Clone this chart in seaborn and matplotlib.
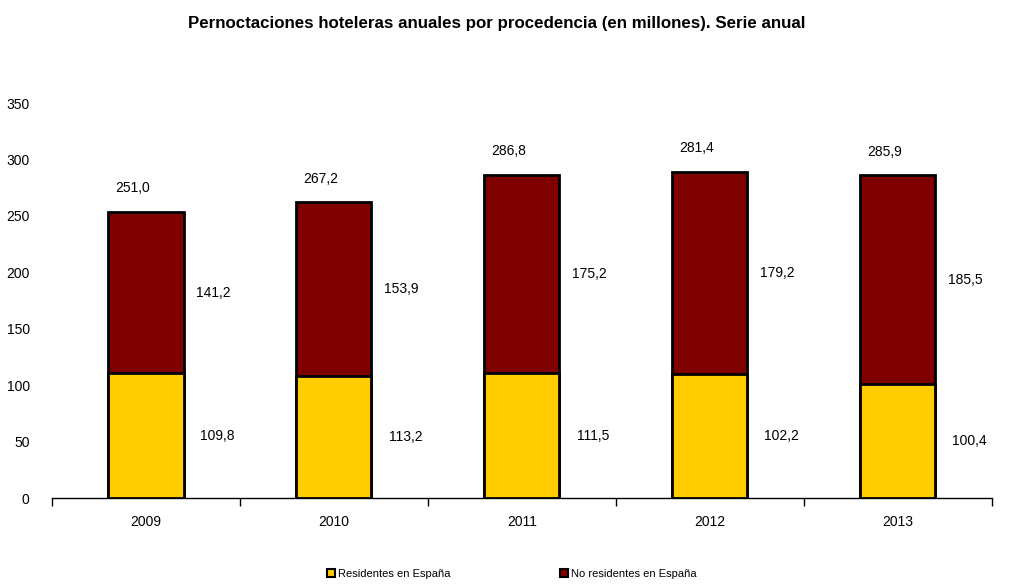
import seaborn as sns
import matplotlib.pyplot as plt
import pandas as pd
import numpy as np
from matplotlib.lines import Line2D

# Datos
anios = ["2009", "2010", "2011", "2012", "2013"]
# alturas de las barras tal como se ven
residentes = [110.5, 108.0, 110.5, 109.5, 100.7]
no_residentes = [143.0, 154.0, 176.0, 179.5, 185.3]
# etiquetas escritas en la gráfica
etiq_total = ["251,0", "267,2", "286,8", "281,4", "285,9"]
etiq_res = ["109,8", "113,2", "111,5", "102,2", "100,4"]
etiq_nores = ["141,2", "153,9", "175,2", "179,2", "185,5"]

amarillo = "#FFCC00"
granate = "#800000"

df = pd.DataFrame({"anio": anios, "res": residentes, "nores": no_residentes})
df["total"] = df["res"] + df["nores"]

sns.set_style("white")
plt.rcParams["font.family"] = ["Liberation Sans Narrow", "Liberation Sans", "DejaVu Sans"]
plt.rcParams["text.color"] = "black"
plt.rcParams["xtick.color"] = "black"
plt.rcParams["ytick.color"] = "black"

fig = plt.figure(figsize=(10.13, 5.87), dpi=100)
ax = fig.add_axes([0.0513, 0.1516, 0.9277, 0.6729])

# barra total (granate) y encima la de residentes (amarillo)
sns.barplot(data=df, x="anio", y="total", color=granate, edgecolor="black",
            linewidth=2, width=0.4, saturation=1, ax=ax)
sns.barplot(data=df, x="anio", y="res", color=amarillo, edgecolor="black",
            linewidth=2, width=0.4, saturation=1, ax=ax)

# etiquetas
for i in range(len(anios)):
    ax.text(i - 0.07, df["total"][i] + 21, etiq_total[i], ha="center", va="center", fontsize=10)
    ax.text(i + 0.36, df["res"][i] + df["nores"][i] / 2, etiq_nores[i], ha="center", va="center", fontsize=10)
    ax.text(i + 0.38, df["res"][i] / 2, etiq_res[i], ha="center", va="center", fontsize=10)

ax.set_xlim(-0.5, 4.5)
ax.set_ylim(0, 350)
ax.set_yticks(np.arange(0, 351, 50))
ax.set_xlabel("")
ax.set_ylabel("")

for s in ["top", "right", "left"]:
    ax.spines[s].set_visible(False)
ax.spines["bottom"].set_color("black")
ax.spines["bottom"].set_linewidth(1)

ax.set_xticks(np.arange(-0.5, 4.6, 1), minor=True)
ax.tick_params(axis="x", which="major", bottom=True, length=0, labelsize=10, pad=12)
ax.tick_params(axis="x", which="minor", bottom=True, length=6, width=1, color="black", direction="out")
ax.tick_params(axis="y", length=0, labelsize=10, pad=16)

fig.suptitle("Pernoctaciones hoteleras anuales por procedencia (en millones). Serie anual",
             x=0.49, y=0.972, fontsize=12.2, fontweight="bold")

handles = [
    Line2D([], [], marker="s", linestyle="", markersize=6, markerfacecolor=amarillo,
           markeredgecolor="black", markeredgewidth=1.5, label="Residentes en España"),
    Line2D([], [], marker="s", linestyle="", markersize=6, markerfacecolor=granate,
           markeredgecolor="black", markeredgewidth=1.5, label="No residentes en España"),
]
fig.legend(handles=handles, loc="center", bbox_to_anchor=(0.505, 0.022), ncol=2,
           frameon=False, fontsize=8, columnspacing=9.8, handletextpad=0.2, handlelength=0.8)

fig.savefig("out.png", dpi=100)
